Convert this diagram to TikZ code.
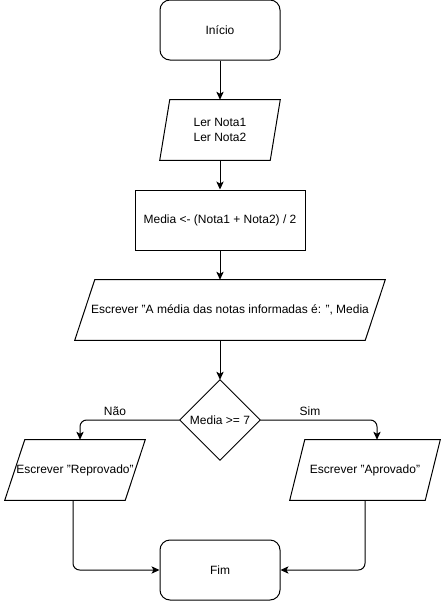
\documentclass[tikz,border=0pt]{standalone}
\usepackage{fontspec}
\setmainfont{Liberation Sans}
\usetikzlibrary{arrows.meta,calc}
\begin{document}
\begin{tikzpicture}[x=0.75pt,y=-0.75pt,
  every node/.style={font=\fontsize{9pt}{11pt}\selectfont, align=center, inner sep=0pt},
  term/.style={draw, rounded corners=7.5pt, minimum width=90pt, minimum height=45pt, line width=0.75pt},
  proc/.style={draw, minimum width=127.5pt, minimum height=45pt, line width=0.75pt},
  frame/.style={minimum height=45pt},
  outl/.style={draw, line width=0.75pt, line join=miter},
  conn/.style={draw, line width=0.75pt, -{Stealth[length=6pt,width=5.5pt,inset=1.5pt]}, rounded corners=5pt}
]
\useasboundingbox (0,0) rectangle (441,601);
\node[term] (ini) at (220,30) {Início};
\node[frame, minimum width=90pt] (ler) at (220,130) {Ler Nota1\\Ler Nota2};
\draw[outl] ($(ler.north west)+(10,0)$) -- (ler.north east) -- ($(ler.south east)+(-10,0)$) -- (ler.south west) -- cycle;
\node[proc] (med) at (220,220) {Media <- (Nota1 + Nota2) / 2};
\node[frame, minimum width=232.5pt] (esc) at (230,310) {Escrever "A média das notas informadas é: ", Media};
\draw[outl] ($(esc.north west)+(20,0)$) -- (esc.north east) -- ($(esc.south east)+(-20,0)$) -- (esc.south west) -- cycle;
\node[minimum width=60pt, minimum height=60pt] (dec) at (220,420) {Media >= 7};
\draw[outl] (dec.north) -- (dec.east) -- (dec.south) -- (dec.west) -- cycle;
\node[frame, minimum width=105pt] (rep) at (75,470) {Escrever "Reprovado"};
\draw[outl] ($(rep.north west)+(20,0)$) -- (rep.north east) -- ($(rep.south east)+(-20,0)$) -- (rep.south west) -- cycle;
\node[frame, minimum width=112.5pt] (apr) at (365,470) {Escrever "Aprovado"};
\draw[outl] ($(apr.north west)+(15,0)$) -- (apr.north east) -- ($(apr.south east)+(-15,0)$) -- (apr.south west) -- cycle;
\node[term] (fim) at (220,570) {Fim};
\node (nao) at (115,411) {Não};
\node (sim) at (310,411) {Sim};
\draw[conn] (ini.south) -- (ler.north);
\draw[conn] (ler.south) -- (med.north);
\draw[conn] (med.south) -- (med.south |- esc.north);
\draw[conn] (dec.north |- esc.south) -- (dec.north);
\draw[conn] (dec.west) -| ([xshift=3.75pt]rep.north);
\draw[conn] (dec.east) -| ([xshift=9pt]apr.north);
\draw[conn] ([xshift=-1.5pt]rep.south) |- (fim.west);
\draw[conn] (apr.south) |- (fim.east);
\end{tikzpicture}
\end{document}
